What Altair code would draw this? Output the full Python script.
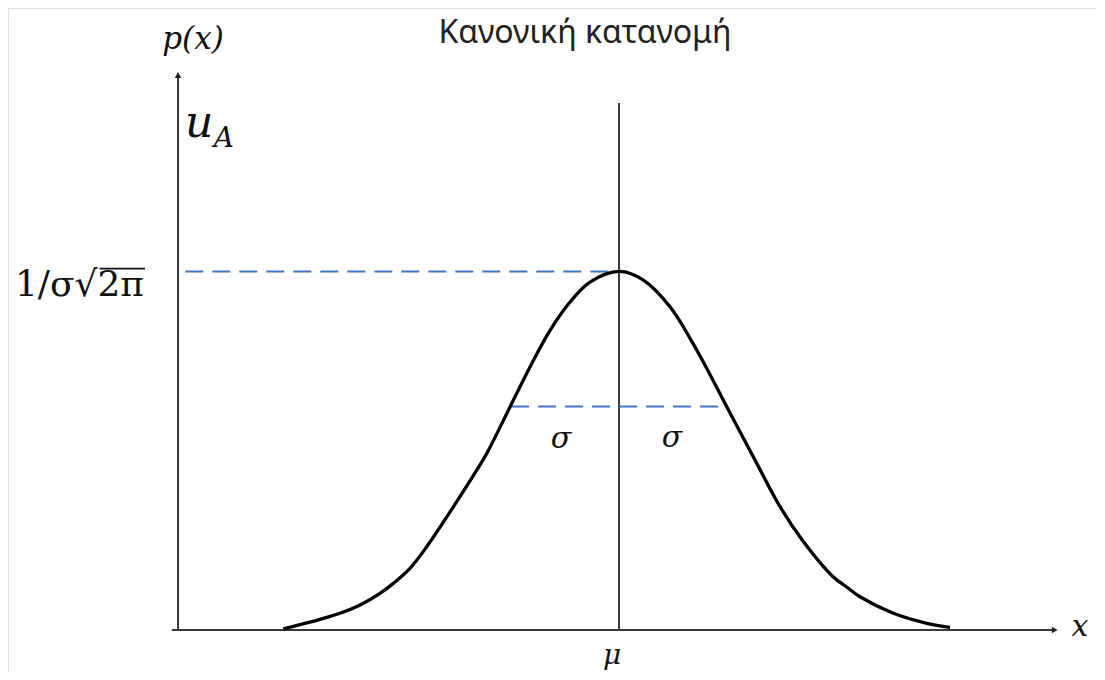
import altair as alt
import pandas as pd

# Curve (x in units of sigma from mu, y = density)
curve_x = [-3.228, -3.067, -2.875, -2.683, -2.490, -2.298, -2.170, -2.010,
           -1.849, -1.593, -1.368, -1.272, -1.048, -0.856, -0.663, -0.471, -0.279,
           0.0, 0.234, 0.490, 0.747, 1.036, 1.291, 1.548, 1.772, 2.061, 2.189, 2.317,
           2.638, 2.959, 3.183]
curve_y = [0.0013, 0.0060, 0.0119, 0.0186, 0.0278, 0.0408, 0.0519, 0.0686,
           0.0927, 0.1370, 0.1778, 0.1963, 0.2481, 0.2926, 0.3333, 0.3648, 0.3870,
           0.3989, 0.3893, 0.3596, 0.3115, 0.2484, 0.1928, 0.1372, 0.0985, 0.0590, 0.0478, 0.0370,
           0.0186, 0.0075, 0.0030]

# Axis / guide segments
axis_x1 = [-4.30, -4.24, 0.0]
axis_x2 = [4.19, -4.24, 0.0]
axis_y1 = [0.0, 0.0, 0.0]
axis_y2 = [0.0, 0.6174, 0.5862]

dash_x1 = [-4.17, -1.038]
dash_x2 = [0.087, 0.971]
dash_y = [0.3989, 0.2486]

# overbar of the square root in the y label
bar_x1 = [-4.995]
bar_x2 = [-4.558]
bar_y = [0.402]

arrow_x = [4.19, -4.24]
arrow_y = [0.0, 0.6174]
arrow_shape = ["triangle-right", "triangle-up"]

# Labels (italic math letters)
it_text = ["p(x)", "u", "A", "σ", "σ", "μ", "x"]
it_x = [-4.096, -4.038, -3.80, -0.558, 0.510, -0.067, 4.433]
it_y = [0.6563, 0.5484, 0.5373, 0.2124, 0.2135, -0.0378, 0.0033]
it_size = [31, 44, 28, 30, 30, 28, 30]
it_base = ["middle", "alphabetic", "alphabetic", "middle", "middle", "alphabetic", "middle"]

# y tick-like label
up_text = ["1/σ√2π"]
up_x = [-4.567]
up_y = [0.3715]

title_text = ["Κανονική κατανομή"]
title_x = [-0.327]
title_y = [0.6530]

xs = alt.Scale(domain=[-5.875, 4.596], nice=False, zero=False)
ys = alt.Scale(domain=[-0.0467, 0.6919], nice=False, zero=False)

curve_df = pd.DataFrame({"x": curve_x, "y": curve_y})
axis_df = pd.DataFrame({"x": axis_x1, "x2": axis_x2, "y": axis_y1, "y2": axis_y2})
dash_df = pd.DataFrame({"x": dash_x1, "x2": dash_x2, "y": dash_y})
bar_df = pd.DataFrame({"x": bar_x1, "x2": bar_x2, "y": bar_y})
arrow_df = pd.DataFrame({"x": arrow_x, "y": arrow_y, "shape": arrow_shape})
it_df = pd.DataFrame({"t": it_text, "x": it_x, "y": it_y, "s": it_size, "b": it_base})
up_df = pd.DataFrame({"t": up_text, "x": up_x, "y": up_y})
title_df = pd.DataFrame({"t": title_text, "x": title_x, "y": title_y})

X = lambda: alt.X("x:Q", scale=xs, axis=None)
Y = lambda: alt.Y("y:Q", scale=ys, axis=None)

axes = alt.Chart(axis_df).mark_rule(color="#3a3a3a", strokeWidth=2).encode(
    x=X(), x2="x2:Q", y=Y(), y2="y2:Q")

dashes = alt.Chart(dash_df).mark_rule(color="#4472C4", strokeWidth=2, strokeDash=[18, 9]).encode(
    x=X(), x2="x2:Q", y=Y())

bar = alt.Chart(bar_df).mark_rule(color="#111", strokeWidth=1.7).encode(
    x=X(), x2="x2:Q", y=Y())

curve = alt.Chart(curve_df).mark_line(color="black", strokeWidth=3.3, interpolate="catmull-rom").encode(
    x=X(), y=Y())

arrows = alt.Chart(arrow_df).mark_point(filled=True, color="#222", size=45, opacity=1).encode(
    x=X(), y=Y(), shape=alt.Shape("shape:N", scale=None, legend=None))

def it_layer(base):
    return alt.Chart(it_df).transform_filter(f"datum.b == '{base}'").mark_text(
        font="DejaVu Serif", fontStyle="italic", color="#111", baseline=base, align="center").encode(
        x=X(), y=Y(), text="t:N", size=alt.Size("s:Q", scale=None, legend=None))

up = alt.Chart(up_df).mark_text(
    font="DejaVu Serif", fontSize=36, color="#111", baseline="alphabetic", align="right").encode(
    x=X(), y=Y(), text="t:N")

title = alt.Chart(title_df).mark_text(
    font="Noto Sans", fontSize=32, color="#222", baseline="alphabetic", align="center").encode(
    x=X(), y=Y(), text="t:N")

chart = alt.layer(axes, dashes, curve, arrows, it_layer("middle"), it_layer("alphabetic"),
                  up, bar, title).properties(
    width=1089, height=664, padding=0,
    autosize=alt.AutoSizeParams(type="none"),
).configure_view(stroke=None).configure(background="white")

chart.save("out.html", embed_options={"renderer": "svg", "actions": False})
